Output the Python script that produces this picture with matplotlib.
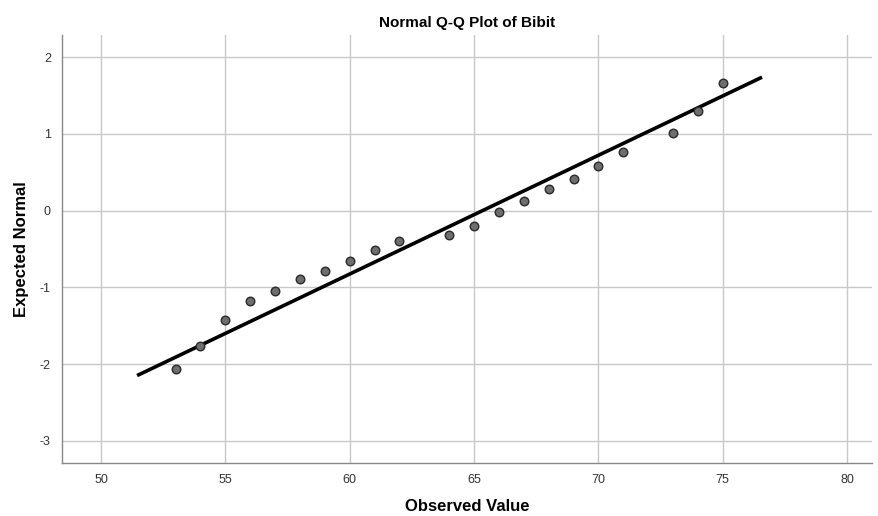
import matplotlib
matplotlib.use("Agg")
import matplotlib.pyplot as plt
import numpy as np

plt.rcParams['font.family'] = ['Liberation Sans', 'DejaVu Sans']
plt.rcParams['axes.unicode_minus'] = False

observed = [53, 54, 55, 56, 57, 58, 59, 60, 61, 62, 64, 65, 66, 67, 68, 69, 70, 71, 73, 74, 75]
expected = [-2.06, -1.76, -1.42, -1.18, -1.05, -0.89, -0.79, -0.66, -0.51, -0.40,
            -0.32, -0.20, -0.02, 0.12, 0.28, 0.41, 0.58, 0.76, 1.01, 1.30, 1.66]

# reference line end points
line_x = [51.45, 76.58]
line_y = [-2.15, 1.74]

xticks = [50, 55, 60, 65, 70, 75, 80]
yticks = [-3, -2, -1, 0, 1, 2]

fig = plt.figure(figsize=(8.79, 5.16), dpi=100)
ax = fig.add_axes([0.0705, 0.1027, 0.9215, 0.8295])

ax.grid(True, color='#c8c8c8', linewidth=1.0)
ax.set_axisbelow(True)

ax.plot(line_x, line_y, color='black', linewidth=2.6, solid_capstyle='butt', zorder=3)
ax.scatter(observed, expected, s=38, facecolor='#6e6e6e', edgecolor='#2a2a2a',
           linewidth=1.0, zorder=4)

ax.set_xlim(48.43, 81.0)
ax.set_ylim(-3.29, 2.29)
ax.set_xticks(xticks)
ax.set_yticks(yticks)
ax.tick_params(length=0, labelsize=9, colors='#333333', pad=8)

for side in ['top', 'right']:
    ax.spines[side].set_visible(False)
for side in ['left', 'bottom']:
    ax.spines[side].set_color('#888888')
    ax.spines[side].set_linewidth(1.0)

ax.set_title('Normal Q-Q Plot of Bibit', fontsize=11, fontweight='bold', pad=6)
ax.set_xlabel('Observed Value', fontsize=12, fontweight='bold', labelpad=9)
ax.set_ylabel('Expected Normal', fontsize=12, fontweight='bold', labelpad=8)

fig.savefig('out.png', dpi=100)
